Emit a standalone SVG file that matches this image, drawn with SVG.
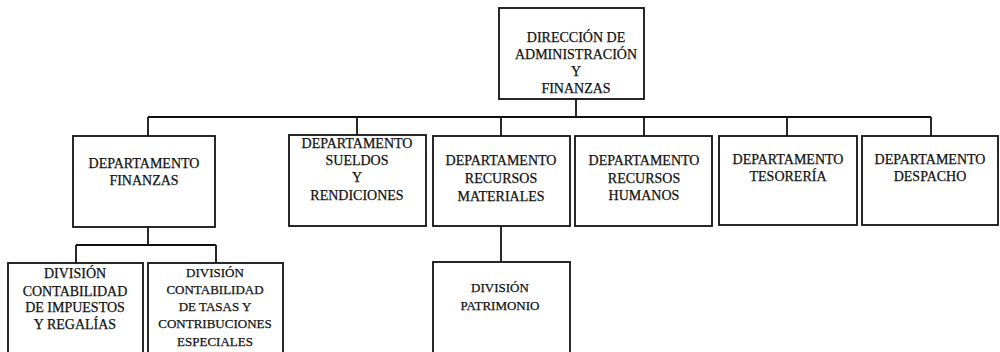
<svg xmlns="http://www.w3.org/2000/svg" width="1000" height="352" viewBox="0 0 1000 352">
<style>
.box{fill:#fff;stroke:#111;stroke-width:1.8}
.ln{fill:none;stroke:#111;stroke-width:1.8}
text{font-family:"Liberation Serif","Times New Roman",serif;font-size:14px;fill:#111;stroke:#111;stroke-width:0.25;text-anchor:middle}
.s13{font-size:13px}
</style>
<rect width="1000" height="352" fill="#fff"/>
<g id="connectors">
<path class="ln" d="M576 99V117M148 117H931M148 117V136M357 117V136M501 117V136M644 117V136M787 117V136M931 117V136"/>
<path class="ln" d="M148 227V245M76 245H216M76 245V263M216 245V263"/>
<path class="ln" d="M501 226V262"/>
</g>
<g id="direccion">
<rect class="box" x="499" y="8" width="145" height="91"/>
<text x="576" y="42">DIRECCIÓN DE</text>
<text x="576" y="59">ADMINISTRACIÓN</text>
<text x="576" y="76">Y</text>
<text x="576" y="93">FINANZAS</text>
</g>
<g id="dep-finanzas">
<rect class="box" x="73" y="136" width="142" height="91"/>
<text x="144" y="168">DEPARTAMENTO</text>
<text x="144" y="185">FINANZAS</text>
</g>
<g id="dep-sueldos">
<rect class="box" x="289" y="135" width="137" height="91"/>
<text x="357" y="148">DEPARTAMENTO</text>
<text x="357" y="165">SUELDOS</text>
<text x="357" y="182">Y</text>
<text x="357" y="200">RENDICIONES</text>
</g>
<g id="dep-materiales">
<rect class="box" x="433" y="136" width="137" height="90"/>
<text x="501" y="165">DEPARTAMENTO</text>
<text x="501" y="183">RECURSOS</text>
<text x="501" y="201">MATERIALES</text>
</g>
<g id="dep-humanos">
<rect class="box" x="575" y="136" width="137" height="90"/>
<text x="644" y="165">DEPARTAMENTO</text>
<text x="644" y="183">RECURSOS</text>
<text x="644" y="200">HUMANOS</text>
</g>
<g id="dep-tesoreria">
<rect class="box" x="719" y="136" width="138" height="89"/>
<text x="788" y="164">DEPARTAMENTO</text>
<text x="788" y="181">TESORERÍA</text>
</g>
<g id="dep-despacho">
<rect class="box" x="862" y="136" width="136" height="89"/>
<text x="930" y="164">DEPARTAMENTO</text>
<text x="930" y="181">DESPACHO</text>
</g>
<g id="div-impuestos">
<rect class="box" x="8" y="263" width="135" height="95"/>
<text x="75" y="278">DIVISIÓN</text>
<text x="75" y="296">CONTABILIDAD</text>
<text x="75" y="312">DE IMPUESTOS</text>
<text x="75" y="329">Y REGALÍAS</text>
</g>
<g id="div-tasas">
<rect class="box" x="148" y="263" width="135" height="95"/>
<text class="s13" x="215" y="277">DIVISIÓN</text>
<text class="s13" x="215" y="294">CONTABILIDAD</text>
<text class="s13" x="215" y="311">DE TASAS Y</text>
<text class="s13" x="215" y="328">CONTRIBUCIONES</text>
<text class="s13" x="215" y="346">ESPECIALES</text>
</g>
<g id="div-patrimonio">
<rect class="box" x="433" y="262" width="137" height="96"/>
<text class="s13" x="500" y="292">DIVISIÓN</text>
<text class="s13" x="500" y="310">PATRIMONIO</text>
</g>
</svg>
